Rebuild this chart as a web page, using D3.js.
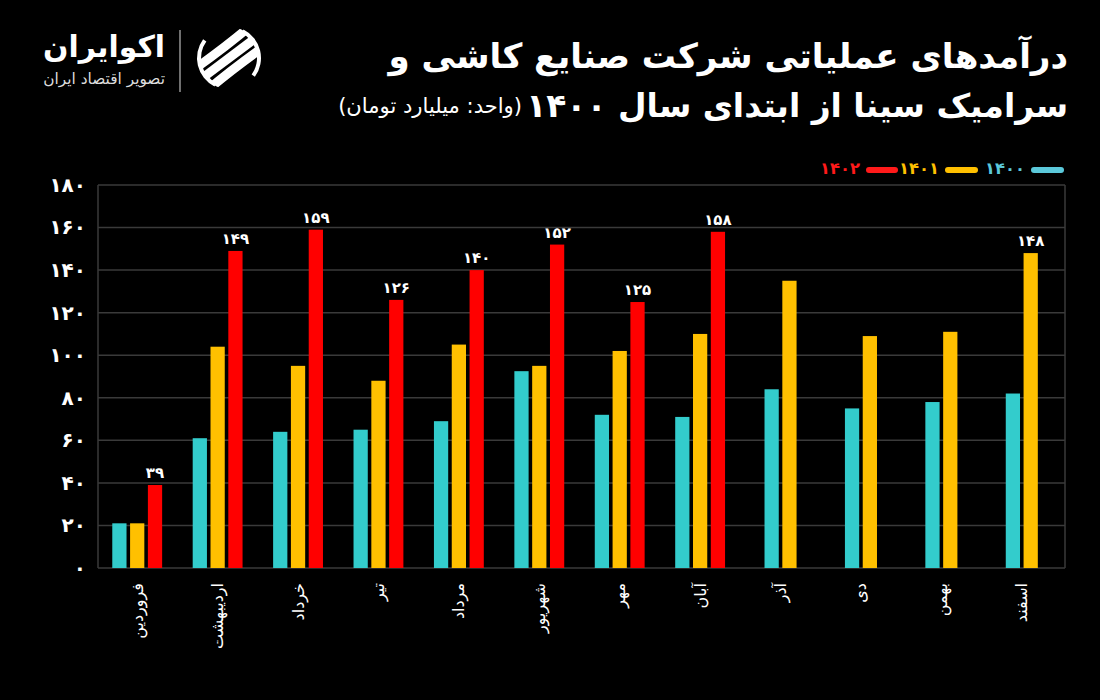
<!DOCTYPE html>
<html><head><meta charset="utf-8">
<script src="https://cdn.jsdelivr.net/npm/d3@7/dist/d3.min.js"></script>
<style>
html,body{margin:0;padding:0;background:#000;}
svg{display:block;}
text{font-family:"DejaVu Sans","Noto Sans",sans-serif;}
</style></head>
<body>
<svg id="chart" width="1100" height="700"></svg>
<script>
// ---- data ----
const months = ["فروردین","اردیبهشت","خرداد","تیر","مرداد","شهریور","مهر","آبان","آذر","دی","بهمن","اسفند"];
const seriesNames = ["۱۴۰۰","۱۴۰۱","۱۴۰۲"];
const values1400 = [21, 61, 64, 65, 69, 92.5, 72, 71, 84, 75, 78, 82];
const values1401 = [21, 104, 95, 88, 105, 95, 102, 110, 135, 109, 111, 148];
const values1402 = [39, 149, 159, 126, 140, 152, 125, 158, null, null, null, null];
const labelled1400 = [false,false,false,false,false,false,false,false,false,false,false,false];
const labelled1401 = [false,false,false,false,false,false,false,false,false,false,false,true];
const labelled1402 = [true,true,true,true,true,true,true,true,false,false,false,false];
const yTicks = [0,20,40,60,80,100,120,140,160,180];
const seriesColors = ["#33cccc","#ffc000","#ff0000"];
const legendColors = ["#5bc8da","#ffc000","#ff1a1a"];
const titleLine1 = "درآمدهای عملیاتی شرکت صنایع کاشی و";
const titleLine2 = "سرامیک سینا از ابتدای سال ۱۴۰۰";
const unitText = "(واحد: میلیارد تومان)";
const brandName = "اکوایران";
const brandSub = "تصویر اقتصاد ایران";

const toFa = v => String(v).replace(/\d/g, d => "۰۱۲۳۴۵۶۷۸۹"[+d]);

const seriesVals = [values1400, values1401, values1402];
const seriesLab = [labelled1400, labelled1401, labelled1402];

const svg = d3.select("#chart");
svg.append("rect").attr("width",1100).attr("height",700).attr("fill","#000");

const M = {left:97, right:1062, top:185, bottom:568};
const x0 = d3.scaleBand().domain(months).range([M.left, M.right]).paddingInner(0.38).paddingOuter(0.19);
const y = d3.scaleLinear().domain([0,180]).range([M.bottom, M.top]);

// fit text helper
function fit(sel, target){
  const len = sel.node().getComputedTextLength();
  const fs = parseFloat(sel.attr("font-size"));
  sel.attr("font-size", fs*target/len);
}

// grid
const grid = svg.append("g");
grid.selectAll("line").data(yTicks).join("line")
  .attr("x1", M.left+1).attr("x2", 1065)
  .attr("y1", d=>y(d)).attr("y2", d=>y(d))
  .attr("stroke", "#3a3a3a").attr("stroke-width", 1.5);
// frame
svg.append("line").attr("x1",M.left+1).attr("x2",M.left+1).attr("y1",y(180)).attr("y2",y(0)).attr("stroke","#3a3a3a").attr("stroke-width",1.5);
svg.append("line").attr("x1",1065).attr("x2",1065).attr("y1",y(180)).attr("y2",y(0)).attr("stroke","#3a3a3a").attr("stroke-width",1.5);

// y axis
const yAxis = d3.axisLeft(y).tickValues(yTicks).tickSize(0).tickPadding(0).tickFormat(toFa);
const ya = svg.append("g").attr("transform",`translate(86,0)`).call(yAxis);
ya.select(".domain").remove();
ya.selectAll("text").attr("fill","#fff").attr("font-size",20).attr("font-weight","bold");

// bars
const step0 = x0.bandwidth();
months.forEach((m,i)=>{
  const present = [0,1,2].filter(s => seriesVals[s][i] != null);
  const n = present.length;
  const c = x0(m) + step0/2;
  const w = step0 * (n - 0.2) / (3 - 0.2);
  const x1 = d3.scaleBand().domain(present).range([c - w/2, c + w/2]).paddingInner(0.2);
  const g = svg.append("g");
  present.forEach(s=>{
    const v = seriesVals[s][i];
    g.append("rect").attr("x", x1(s)).attr("width", x1.bandwidth())
      .attr("y", y(v)).attr("height", y(0)-y(v)).attr("fill", seriesColors[s]);
    if (seriesLab[s][i]) {
      g.append("text").attr("x", x1(s)+x1.bandwidth()/2).attr("y", y(v)-7)
        .attr("text-anchor","middle").attr("fill","#fff").attr("font-size",15).attr("font-weight","bold")
        .text(toFa(v));
    }
  });
});

// x labels
const xa = svg.append("g");
months.forEach(m=>{
  xa.append("text")
    .attr("transform",`translate(${x0(m)+step0/2},583) rotate(-90)`)
    .attr("text-anchor","end").attr("dominant-baseline","central")
    .attr("fill","#fff").attr("font-size",16)
    .text(m);
});

// legend (right to left: 1400, 1401, 1402)
const legendItems = [
  {name:seriesNames[0], color:legendColors[0], lx1:1034, lx2:1061, tx:1025},
  {name:seriesNames[1], color:legendColors[1], lx1:948, lx2:975, tx:939},
  {name:seriesNames[2], color:legendColors[2], lx1:869, lx2:895, tx:860}
];
const lg = svg.append("g");
legendItems.forEach(it=>{
  lg.append("line").attr("x1",it.lx1).attr("x2",it.lx2).attr("y1",170).attr("y2",170)
    .attr("stroke",it.color).attr("stroke-width",6).attr("stroke-linecap","round");
  const t = lg.append("text").attr("x",it.tx).attr("y",168).attr("dominant-baseline","central")
    .attr("text-anchor","end").attr("fill",it.color).attr("font-size",20).attr("font-weight","bold")
    .text(it.name);
  fit(t, 40);
});

// title
const t1 = svg.append("text").attr("x",1068).attr("y",68).attr("direction","rtl").attr("text-anchor","start")
  .attr("fill","#fff").attr("font-size",30).attr("font-weight","bold").text(titleLine1);
fit(t1, 680);
const t2 = svg.append("text").attr("x",1068).attr("y",117).attr("direction","rtl").attr("text-anchor","start")
  .attr("fill","#fff").attr("font-size",30).attr("font-weight","bold").text(titleLine2);
fit(t2, 542);
const t3 = svg.append("text").attr("x",522).attr("y",113).attr("direction","rtl").attr("text-anchor","start")
  .attr("fill","#fff").attr("font-size",16).text(unitText);
fit(t3, 184);

// brand
const b1 = svg.append("text").attr("x",165).attr("y",57).attr("direction","rtl").attr("text-anchor","start")
  .attr("fill","#fff").attr("font-size",28).attr("font-weight","bold").text(brandName);
fit(b1, 122);
const b2 = svg.append("text").attr("x",165).attr("y",84).attr("direction","rtl").attr("text-anchor","start")
  .attr("fill","#ddd").attr("font-size",13).text(brandSub);
fit(b2, 122);
svg.append("line").attr("x1",180).attr("x2",180).attr("y1",30).attr("y2",92).attr("stroke","#bbb").attr("stroke-width",1.2);

// logo icon
const icon = svg.append("g").attr("transform","translate(229,58)");
const defs = svg.append("defs");
defs.append("clipPath").attr("id","lc").append("circle").attr("r",31);
const ig = icon.append("g").attr("clip-path","url(#lc)");
[-17,0,17].forEach(o=>{
  ig.append("path")
    .attr("d", `M${-40+o},${30+o*0.2} Q${o*0.6},${o*0.3} ${40+o},${-30+o*0.2}`)
    .attr("stroke","#fff").attr("stroke-width",9).attr("fill","none");
});
icon.append("path").attr("d", d3.arc()({innerRadius:28,outerRadius:32,startAngle:Math.PI*1.15,endAngle:Math.PI*1.7})).attr("fill","#fff");
icon.append("path").attr("d", d3.arc()({innerRadius:28,outerRadius:32,startAngle:Math.PI*0.15,endAngle:Math.PI*0.7})).attr("fill","#fff");
</script>
</body></html>
